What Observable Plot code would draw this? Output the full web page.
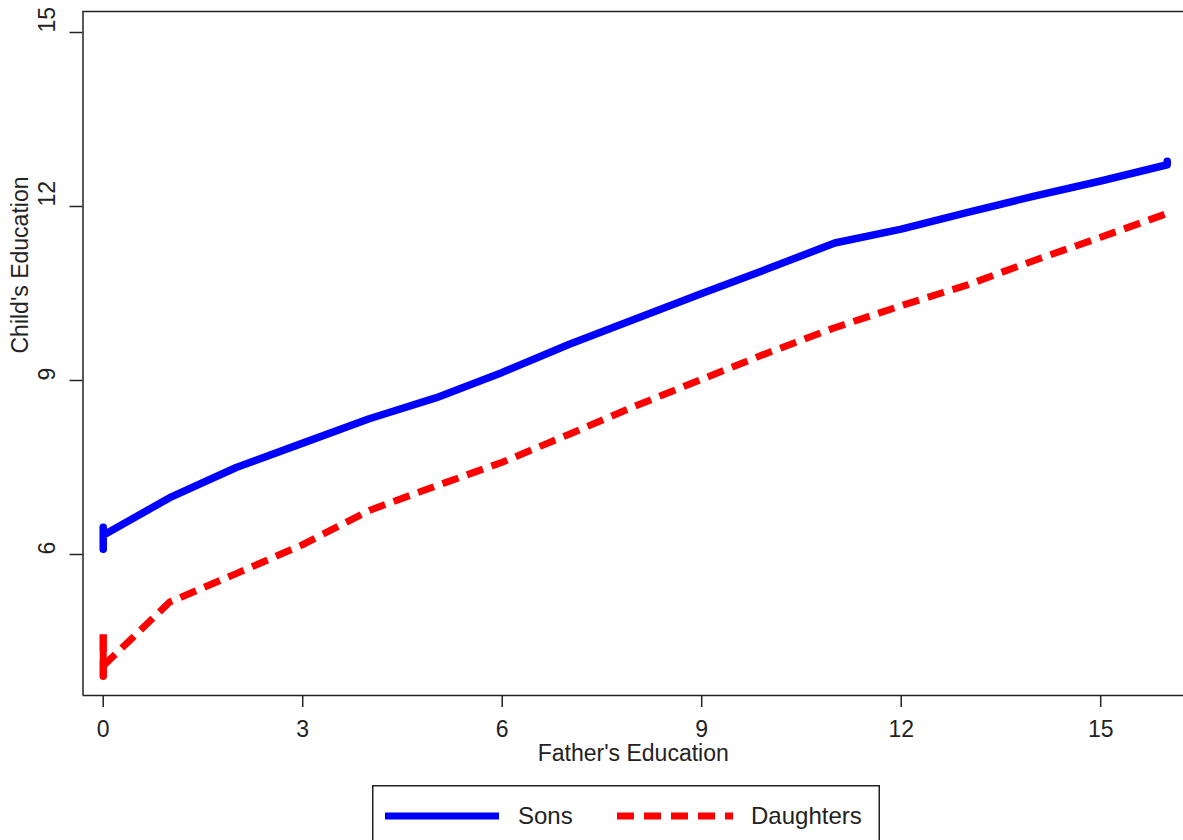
<!DOCTYPE html>
<html><head><meta charset="utf-8">
<script src="https://cdn.jsdelivr.net/npm/d3@7"></script>
<script src="https://cdn.jsdelivr.net/npm/@observablehq/plot@0.6"></script>
<style>
body{margin:0;background:#fff;overflow:hidden;font-family:"Liberation Sans",Arial,sans-serif;}
#chart svg{display:block;}
#legend{margin-left:372px;margin-top:15px;}
#legend svg{display:block;}
</style></head><body>
<div id="chart"></div>
<div id="legend"></div>
<script>
// ---- data ----
const seriesNames = ["Sons", "Daughters"];
const seriesColors = ["#0000ff", "#ff0000"];
const sonsX = [0, 0, 0, 1, 2, 3, 4, 5, 6, 7, 8, 9, 10, 11, 12, 13, 14, 15, 16, 16];
const sonsY = [6.47, 6.09, 6.33, 6.98, 7.50, 7.92, 8.34, 8.70, 9.14, 9.62, 10.06, 10.50, 10.93, 11.37, 11.61, 11.90, 12.18, 12.44, 12.72, 12.78];
const daughtersX = [0, 0, 0, 1, 2, 3, 4, 5, 6, 7, 8, 9, 10, 11, 12, 13, 14, 15, 16];
const daughtersY = [4.62, 3.90, 4.08, 5.18, 5.67, 6.17, 6.76, 7.18, 7.59, 8.07, 8.56, 9.02, 9.48, 9.91, 10.29, 10.65, 11.07, 11.47, 11.88];
const xTicks = [0, 3, 6, 9, 12, 15];
const yTicks = [6, 9, 12, 15];
const xTitle = "Father's Education";
const yTitle = "Child's Education";
const xDomain = [-0.304, 16.245];
const yDomain = [3.569, 15.362];

const sons = sonsX.map((x, i) => ({x, y: sonsY[i]}));
const daughters = daughtersX.map((x, i) => ({x, y: daughtersY[i]}));

const FONT = "Liberation Sans, Arial, sans-serif";
const ink = "#222";

const chart = Plot.plot({
  width: 1183, height: 770,
  marginLeft: 82.5, marginRight: 0, marginTop: 11, marginBottom: 75,
  x: {domain: xDomain},
  y: {domain: yDomain},
  style: {fontFamily: FONT, fontSize: "24px", color: ink, background: "#fff"},
  marks: [
    Plot.axisX(xTicks, {tickSize: 12, tickPadding: 13, label: null, fontSize: 23, stroke: ink, strokeWidth: 1.5}),
    Plot.axisY(yTicks, {tickSize: 13, label: null, tickFormat: () => "", stroke: ink, strokeWidth: 1.5}),
    Plot.text(yTicks, {y: d => d, text: d => String(d), frameAnchor: "left", dx: -35, rotate: -90, fontSize: 23, fill: ink}),
    Plot.text([xTitle], {text: d => d, frameAnchor: "bottom", dy: 65, fontSize: 23, fill: ink}),
    Plot.text([yTitle], {text: d => d, frameAnchor: "left", dx: -62, rotate: -90, fontSize: 23, fill: ink}),
    Plot.ruleX([xDomain[0]], {stroke: ink, strokeWidth: 1.5}),
    Plot.ruleY(yDomain, {stroke: ink, strokeWidth: 1.5}),
    Plot.line(daughters, {x: "x", y: "y", stroke: seriesColors[1], strokeWidth: 7, strokeDasharray: "17,9", strokeLinecap: "butt", strokeLinejoin: "round"}),
    Plot.line(daughters.filter(d => d.x === 0), {x: "x", y: "y", stroke: seriesColors[1], strokeWidth: 7, strokeLinecap: "butt"}),
    Plot.line(sons, {x: "x", y: "y", stroke: seriesColors[0], strokeWidth: 7.5, strokeLinecap: "round", strokeLinejoin: "round"})
  ]
});
document.getElementById("chart").appendChild(chart);

// ---- legend ----
const lw = 508, lh = 70;
const lsvg = d3.select("#legend").append("svg").attr("width", lw).attr("height", lh);
lsvg.append("rect").attr("x", 0.75).attr("y", 0.75).attr("width", lw - 1.5).attr("height", lh)
  .attr("fill", "#fff").attr("stroke", ink).attr("stroke-width", 1.5);
const items = [
  {name: seriesNames[0], color: seriesColors[0], x0: 13, x1: 127, tx: 146, dash: null},
  {name: seriesNames[1], color: seriesColors[1], x0: 245, x1: 361, tx: 379, dash: "17,10"}
];
items.forEach(it => {
  const l = lsvg.append("line").attr("x1", it.x0).attr("x2", it.x1).attr("y1", 31).attr("y2", 31)
    .attr("stroke", it.color).attr("stroke-width", 7);
  if (it.dash) l.attr("stroke-dasharray", it.dash);
  lsvg.append("text").attr("x", it.tx).attr("y", 31).attr("dy", "0.35em")
    .attr("font-family", FONT).attr("font-size", 24).attr("fill", ink).text(it.name);
});
</script>
</body></html>
